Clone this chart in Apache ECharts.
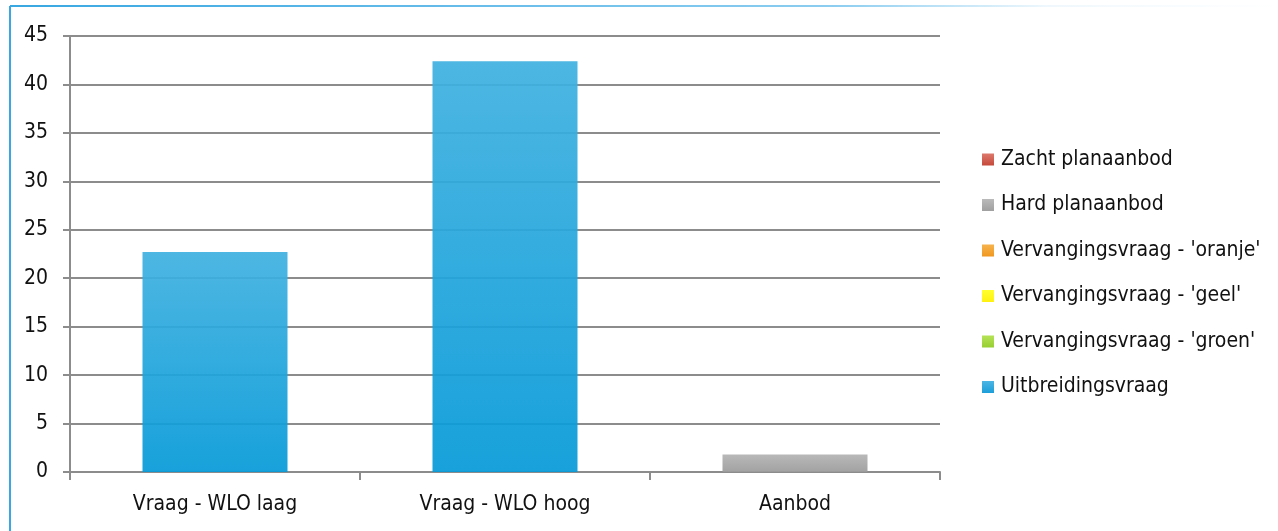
<!DOCTYPE html>
<html>
<head>
<meta charset="utf-8">
<script src="https://cdn.jsdelivr.net/npm/echarts@6/dist/echarts.min.js"></script>
<style>
html,body{margin:0;padding:0;background:#fff;}
#chart{width:1278px;height:531px;}
</style>
</head>
<body>
<div id="chart"></div>
<script>
// Categories and series values (stacked)
const categories = ['Vraag - WLO laag', 'Vraag - WLO hoog', 'Aanbod'];
const uitbreidingsvraag = [22.7, 42.4, 0];
const vervangingGroen = [0, 0, 0];
const vervangingGeel = [0, 0, 0];
const vervangingOranje = [0, 0, 0];
const hardPlanaanbod = [0, 0, 1.8];
const zachtPlanaanbod = [0, 0, 0];
const yTicks = [0, 5, 10, 15, 20, 25, 30, 35, 40, 45];

const FONT = '"DejaVu Sans Condensed", "Liberation Sans Narrow", sans-serif';
const FS = 21;

function grad(top, bottom) {
  return new echarts.graphic.LinearGradient(0, 0, 0, 1, [
    { offset: 0, color: top },
    { offset: 1, color: bottom }
  ]);
}

const seriesDefs = [
  { name: 'Uitbreidingsvraag', data: uitbreidingsvraag, color: grad('#40b1e0', '#069ad8'), legendColor: grad('#3fb0e2', '#0b97d6') },
  { name: "Vervangingsvraag - 'groen'", data: vervangingGroen, color: grad('#a8dc3c', '#8fc92a'), legendColor: grad('#b0e04a', '#8fcb22') },
  { name: "Vervangingsvraag - 'geel'", data: vervangingGeel, color: grad('#ffff33', '#ffee00'), legendColor: grad('#ffff20', '#fff000') },
  { name: "Vervangingsvraag - 'oranje'", data: vervangingOranje, color: grad('#f7ae3c', '#ef8f10'), legendColor: grad('#f6ad40', '#ef900e') },
  { name: 'Hard planaanbod', data: hardPlanaanbod, color: grad('#b3b3b3', '#9b9b9b'), legendColor: grad('#b5b5b5', '#989898') },
  { name: 'Zacht planaanbod', data: zachtPlanaanbod, color: grad('#d86d60', '#c2402f'), legendColor: grad('#da6f62', '#c03c2c') }
];

const chart = echarts.init(document.getElementById('chart'), null, { renderer: 'canvas' });

chart.setOption({
  animation: false,
  backgroundColor: '#ffffff',
  textStyle: { fontFamily: FONT },
  graphic: [
    {
      type: 'line', silent: true,
      shape: { x1: 10, y1: 6, x2: 10, y2: 531 },
      style: { stroke: '#39a7e1', lineWidth: 2 }
    },
    {
      type: 'line', silent: true,
      shape: { x1: 10, y1: 6, x2: 1278, y2: 6 },
      style: {
        lineWidth: 2,
        stroke: new echarts.graphic.LinearGradient(0, 0, 1, 0, [
          { offset: 0, color: '#39a7e1' },
          { offset: 0.65, color: '#8ccdf0' },
          { offset: 0.82, color: '#f0f8fd' },
          { offset: 1, color: '#ffffff' }
        ])
      }
    }
  ],
  grid: { left: 70, right: 338, top: 36, bottom: 59, containLabel: false },
  legend: {
    orient: 'vertical',
    left: 977,
    top: 144,
    itemWidth: 12,
    itemHeight: 12,
    itemGap: 24.5,
    icon: 'rect',
    data: seriesDefs.slice().reverse().map(s => ({ name: s.name, itemStyle: { color: s.legendColor } })),
    textStyle: { fontFamily: FONT, fontSize: FS, color: '#111', padding: [0, 0, 0, 2] }
  },
  xAxis: {
    type: 'category',
    data: categories,
    axisLine: { show: true, lineStyle: { color: '#8c8c8c', width: 2 } },
    axisTick: { show: true, length: 8, lineStyle: { color: '#8c8c8c', width: 2 } },
    axisLabel: { fontFamily: FONT, fontSize: FS, color: '#111', margin: 22 }
  },
  yAxis: {
    type: 'value',
    min: 0, max: 45, interval: 5,
    axisLine: { show: true, lineStyle: { color: '#8c8c8c', width: 2 } },
    axisTick: { show: true, length: 7, lineStyle: { color: '#8c8c8c', width: 2 } },
    axisLabel: {
      fontFamily: FONT, fontSize: FS, color: '#111', margin: 22,
      formatter: v => (yTicks.indexOf(v) >= 0 ? String(v) : '')
    },
    splitLine: { show: true, lineStyle: { color: '#8c8c8c', width: 2 } }
  },
  series: seriesDefs.map(s => ({
    name: s.name,
    type: 'bar',
    stack: 'total',
    barWidth: '50%',
    data: s.data,
    itemStyle: { color: s.color, opacity: 0.93 }
  }))
});
</script>
</body>
</html>
